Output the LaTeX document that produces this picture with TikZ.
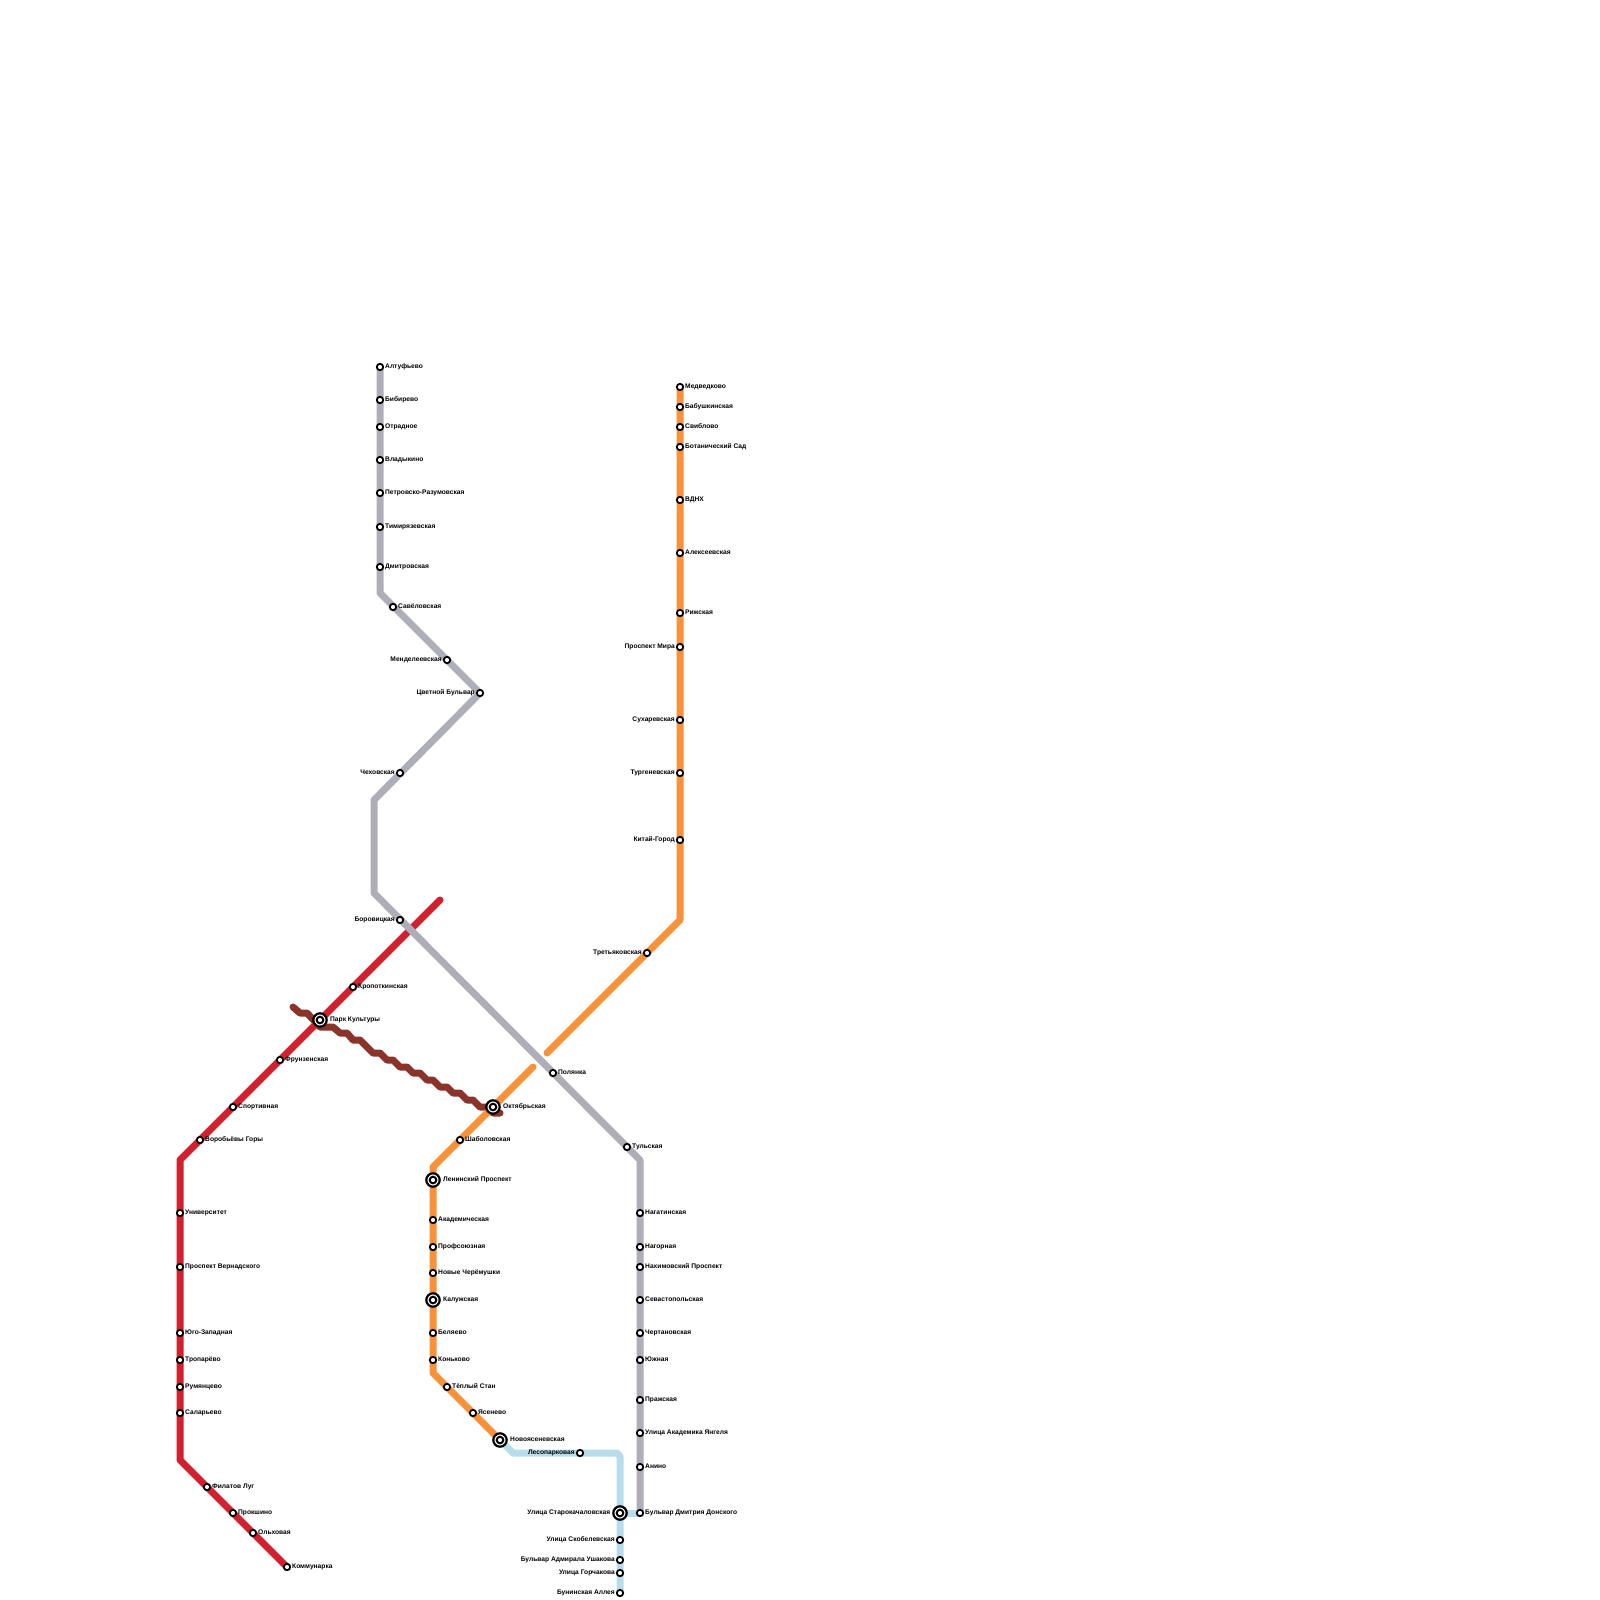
\documentclass[tikz,border=0pt]{standalone}
\usepackage{fontspec}
\setmainfont{Liberation Sans}
\usetikzlibrary{backgrounds}
\definecolor{cgrey}{HTML}{AEAEB9}
\definecolor{corange}{HTML}{F8923A}
\definecolor{cred}{HTML}{D1202E}
\definecolor{cbrown}{HTML}{8B3328}
\definecolor{cblue}{HTML}{B7DDEB}
\tikzset{
 stn/.style={circle,draw=black,fill=white,line width=1.8pt,minimum size=6.4pt,inner sep=0pt,outer sep=0pt},
 ringo/.style={circle,draw=black,fill=white,line width=2.2pt,minimum size=13.4pt,inner sep=0pt,outer sep=0pt},
 ringi/.style={circle,draw=black,fill=white,line width=2pt,minimum size=6.6pt,inner sep=0pt,outer sep=0pt},
 lblR/.style={anchor=base west,inner sep=0pt,font=\fontsize{6.66}{8}\selectfont\bfseries,text=black},
 lblL/.style={anchor=base east,inner sep=0pt,font=\fontsize{6.66}{8}\selectfont\bfseries,text=black},
 metro/.style={line width=7pt,line join=round},
 metrocap/.style={metro,line cap=round},
}
\newcommand\stR[4]{\node[stn] (#1) at (#2,#3) {}; \node[lblR] (#1l) at (#2+5,#3+1.7) {#4};}
\newcommand\stL[4]{\node[stn] (#1) at (#2,#3) {}; \node[lblL] (#1l) at (#2-5,#3+1.7) {#4};}
\newcommand\inR[4]{\node[ringo] (#1) at (#2,#3) {}; \node[ringi] (#1i) at (#2,#3) {}; \node[lblR] (#1l) at (#2+10,#3+1.7) {#4};}
\newcommand\inL[4]{\node[ringo] (#1) at (#2,#3) {}; \node[ringi] (#1i) at (#2,#3) {}; \node[lblL] (#1l) at (#2-9.5,#3+1.7) {#4};}
\begin{document}
\begin{tikzpicture}[x=1pt,y=-1pt]
\useasboundingbox (0,0) rectangle (1600,1600);
% grey
\stR{g1}{380}{367}{Алтуфьево}
\stR{g2}{380}{400}{Бибирево}
\stR{g3}{380}{427}{Отрадное}
\stR{g4}{380}{460}{Владыкино}
\stR{g5}{380}{493}{Петровско-Разумовская}
\stR{g6}{380}{527}{Тимирязевская}
\stR{g7}{380}{567}{Дмитровская}
\stR{g8}{393}{607}{Савёловская}
\stL{g9}{447}{660}{Менделеевская}
\stL{g10}{480}{693}{Цветной Бульвар}
\stL{g11}{400}{773}{Чеховская}
\stL{g12}{400}{920}{Боровицкая}
\stR{g13}{553}{1073}{Полянка}
\stR{g14}{627}{1147}{Тульская}
\stR{g15}{640}{1213}{Нагатинская}
\stR{g16}{640}{1247}{Нагорная}
\stR{g17}{640}{1267}{Нахимовский Проспект}
\stR{g18}{640}{1300}{Севастопольская}
\stR{g19}{640}{1333}{Чертановская}
\stR{g20}{640}{1360}{Южная}
\stR{g21}{640}{1400}{Пражская}
\stR{g22}{640}{1433}{Улица Академика Янгеля}
\stR{g23}{640}{1467}{Анино}
\stR{g24}{640}{1513}{Бульвар Дмитрия Донского}
% red
\stR{r1}{353}{987}{Кропоткинская}
\inR{r2}{320}{1020}{Парк Культуры}
\stR{r3}{280}{1060}{Фрунзенская}
\stR{r4}{233}{1107}{Спортивная}
\stR{r5}{200}{1140}{Воробьёвы Горы}
\stR{r6}{180}{1213}{Университет}
\stR{r7}{180}{1267}{Проспект Вернадского}
\stR{r8}{180}{1333}{Юго-Западная}
\stR{r9}{180}{1360}{Тропарёво}
\stR{r10}{180}{1387}{Румянцево}
\stR{r11}{180}{1413}{Саларьево}
\stR{r12}{207}{1487}{Филатов Луг}
\stR{r13}{233}{1513}{Прокшино}
\stR{r14}{253}{1533}{Ольховая}
\stR{r15}{287}{1567}{Коммунарка}
% orange north
\stR{o1}{680}{387}{Медведково}
\stR{o2}{680}{407}{Бабушкинская}
\stR{o3}{680}{427}{Свиблово}
\stR{o4}{680}{447}{Ботанический Сад}
\stR{o5}{680}{500}{ВДНХ}
\stR{o6}{680}{553}{Алексеевская}
\stR{o7}{680}{613}{Рижская}
\stL{o8}{680}{647}{Проспект Мира}
\stL{o9}{680}{720}{Сухаревская}
\stL{o10}{680}{773}{Тургеневская}
\stL{o11}{680}{840}{Китай-Город}
\stL{o12}{647}{953}{Третьяковская}
% orange south
\inR{p1}{493}{1107}{Октябрьская}
\stR{p2}{460}{1140}{Шаболовская}
\inR{p3}{433}{1180}{Ленинский Проспект}
\stR{p4}{433}{1220}{Академическая}
\stR{p5}{433}{1247}{Профсоюзная}
\stR{p6}{433}{1273}{Новые Черёмушки}
\inR{p7}{433}{1300}{Калужская}
\stR{p8}{433}{1333}{Беляево}
\stR{p9}{433}{1360}{Коньково}
\stR{p10}{447}{1387}{Тёплый Стан}
\stR{p11}{473}{1413}{Ясенево}
\inR{p12}{500}{1440}{Новоясеневская}
% blue
\stL{b1}{580}{1453}{Лесопарковая}
\inL{b2}{620}{1513}{Улица Старокачаловская}
\stL{b3}{620}{1540}{Улица Скобелевская}
\stL{b4}{620}{1560}{Бульвар Адмирала Ушакова}
\stL{b5}{620}{1573}{Улица Горчакова}
\stL{b6}{620}{1593}{Бунинская Аллея}
% waypoints
\coordinate (gw1) at (380,593);
\coordinate (gw2) at (374,800);
\coordinate (gw3) at (374,893);
\coordinate (gw4) at (640,1160);
\coordinate (rw0) at (440,900);
\coordinate (rw1) at (180,1160);
\coordinate (rw2) at (180,1460);
\coordinate (ow1) at (680,920);
\coordinate (ow2) at (547,1053);
\coordinate (pw0) at (533,1067);
\coordinate (pw1) at (433,1167);
\coordinate (pw2) at (433,1373);
\coordinate (bw1) at (513,1453);
\coordinate (bw2) at (617,1453);
\coordinate (bw3) at (620,1456);
\begin{pgfonlayer}{background}
\draw[metro,cbrown,line cap=round] (293,1007) -- (300,1013) -- (307,1013) -- (320,1027) -- (333,1027) -- (340,1033) -- (347,1033) -- (353,1040) -- (360,1040) -- (373,1053) -- (380,1053) -- (387,1060) -- (393,1060) -- (400,1067) -- (407,1067) -- (413,1073) -- (420,1073) -- (427,1080) -- (433,1080) -- (440,1087) -- (447,1087) -- (453,1093) -- (460,1093) -- (467,1100) -- (473,1100) -- (480,1107) -- (487,1107) -- (493,1113) -- (500,1113);
\draw[metrocap,cred] (rw0) -- (r1.center) -- (r2.center) -- (r3.center) -- (r4.center) -- (r5.center) -- (rw1) -- (rw2) -- (r12.center) -- (r15.center);
\draw[metro,cgrey] (g1.center) -- (gw1) -- (g10.center) -- (gw2) -- (gw3) -- (gw4) -- (g24.center);
\draw[metrocap,corange] (o1.center) -- (ow1) -- (ow2);
\draw[metrocap,corange] (pw0) -- (pw1) -- (pw2) -- (p12.center);
\draw[metro,cblue] (p12.center) -- (bw1) -- (bw2) -- (bw3) -- (b6.center);
\draw[metro,cblue] (b2.center) -- (g24.center);
\end{pgfonlayer}
\end{tikzpicture}
\end{document}
